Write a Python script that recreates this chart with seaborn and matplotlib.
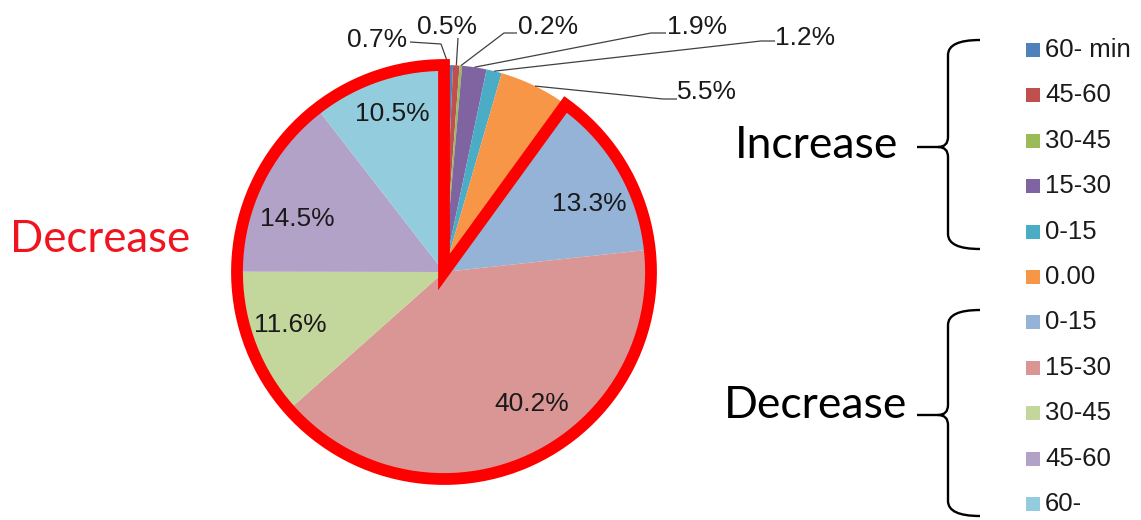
import matplotlib
matplotlib.use("Agg")
import matplotlib.pyplot as plt
import seaborn as sns
import numpy as np
from matplotlib.patches import Wedge, Rectangle, PathPatch
from matplotlib.path import Path

# ---------------- data ----------------
legend_labels = ["60- min", "45-60", "30-45", "15-30", "0-15", "0.00",
                 "0-15", "15-30", "30-45", "45-60", "60-"]
shares = [0.7, 0.5, 0.2, 1.9, 1.2, 5.5, 13.3, 40.2, 11.6, 14.5, 10.5]
slice_colors = ["#4F81BD", "#C0504D", "#9BBB59", "#8064A2", "#4BACC6", "#F79646",
                "#95B3D7", "#D99694", "#C3D69B", "#B3A2C7", "#93CDDD"]
n_not_decrease = 6          # first six slices: increase + 0.00
group_titles = ["Increase", "Decrease"]

# ---------------- style ----------------
sns.set_theme(style="white")
plt.rcParams['font.family'] = ['Liberation Sans', 'DejaVu Sans']

W, H = 1141, 520
fig = plt.figure(figsize=(W / 100, H / 100), dpi=100)
fig.patch.set_facecolor("white")
ax = fig.add_axes([0, 0, 1, 1])


def Y(y):
    return H - y


cx, cy, R = 444, Y(272), 207
pal = sns.color_palette(slice_colors)
wedges, _ = ax.pie(shares, colors=pal, startangle=90, counterclock=False,
                   center=(cx, cy), radius=R, wedgeprops=dict(linewidth=0))

total = float(sum(shares))
vals = np.array(shares)
cum = np.cumsum(vals)
mid_frac = (cum - vals / 2) / total
theta = np.deg2rad(90 - 360 * mid_frac)

# red outline around decrease region
dec_frac = vals[n_not_decrease:].sum() / total
ax.add_patch(Wedge((cx, cy), R, 90, 90 + 360 * dec_frac, fill=False,
                   edgecolor="#FF0000", linewidth=8.5, joinstyle="miter", zorder=5))

# label positions (layout, image pixel coords)
label_pos = [(377, 40), (447, 27), (548, 27), (697, 27), (805, 38), (707, 92),
             (589, 204), (532, 404), (290, 325), (297, 219), (392, 114)]
out_lead = [[(410, 42), (441, 44)], [(458, 38)], [(517, 33), (504, 33)],
            [(666, 33), (651, 33)], [(775, 41), (761, 41)], [(677, 99), (663, 99)]]

for i, v in enumerate(shares):
    tx, ty = label_pos[i]
    ax.text(tx, Y(ty), f"{v:.1f}%", ha="center", va="center",
            fontsize=19, color="#1a1a1a", zorder=6)
    if i < n_not_decrease:
        ex = cx + R * np.cos(theta[i])
        ey = cy + R * np.sin(theta[i])
        pts = [(px, Y(py)) for px, py in out_lead[i]] + [(ex, ey)]
        xs, ys = zip(*pts)
        ax.plot(xs, ys, color="#404040", lw=0.9, zorder=4, solid_capstyle="butt")

# left red title
ax.text(10, Y(252), group_titles[1], ha="left", va="baseline", fontsize=31.5,
        color="#F0141E", family=["Lato", "DejaVu Sans"])

# right group titles
ax.text(817, Y(158), group_titles[0], ha="center", va="baseline", fontsize=32,
        color="black", family=["Lato", "DejaVu Sans"])
ax.text(816, Y(418), group_titles[1], ha="center", va="baseline", fontsize=32,
        color="black", family=["Lato", "DejaVu Sans"])


def brace(y_top, y_mid, y_bot, x_line=948, x_end=980, x_dash=917, r=15, rt=10):
    verts = [
        (x_end, y_top), (x_line, y_top), (x_line, y_top + r),
        (x_line, y_mid - rt),
        (x_line, y_mid), (x_line - rt, y_mid),
        (x_dash, y_mid),
        (x_line - rt, y_mid), (x_line, y_mid), (x_line, y_mid + rt),
        (x_line, y_bot - r),
        (x_line, y_bot), (x_end, y_bot),
    ]
    codes = [Path.MOVETO, Path.CURVE3, Path.CURVE3,
             Path.LINETO,
             Path.CURVE3, Path.CURVE3,
             Path.LINETO,
             Path.MOVETO, Path.CURVE3, Path.CURVE3,
             Path.LINETO,
             Path.CURVE3, Path.CURVE3]
    verts = [(vx, Y(vy)) for vx, vy in verts]
    ax.add_patch(PathPatch(Path(verts, codes), fill=False, edgecolor="black",
                           lw=1.7, capstyle="butt", joinstyle="round"))


brace(40, 147, 249)
brace(310, 415, 516)

# legend
for i, (lab, col) in enumerate(zip(legend_labels, pal)):
    yy = 50 + i * 45.4
    ax.add_patch(Rectangle((1026, Y(yy) - 7), 14, 14, facecolor=col, edgecolor="none"))
    ax.text(1045, Y(yy), lab, ha="left", va="center", fontsize=18.5, color="#1a1a1a")

ax.set_xlim(0, W)
ax.set_ylim(0, H)
ax.set_aspect("equal")
ax.axis("off")

fig.savefig("out.png", dpi=100, facecolor="white")
